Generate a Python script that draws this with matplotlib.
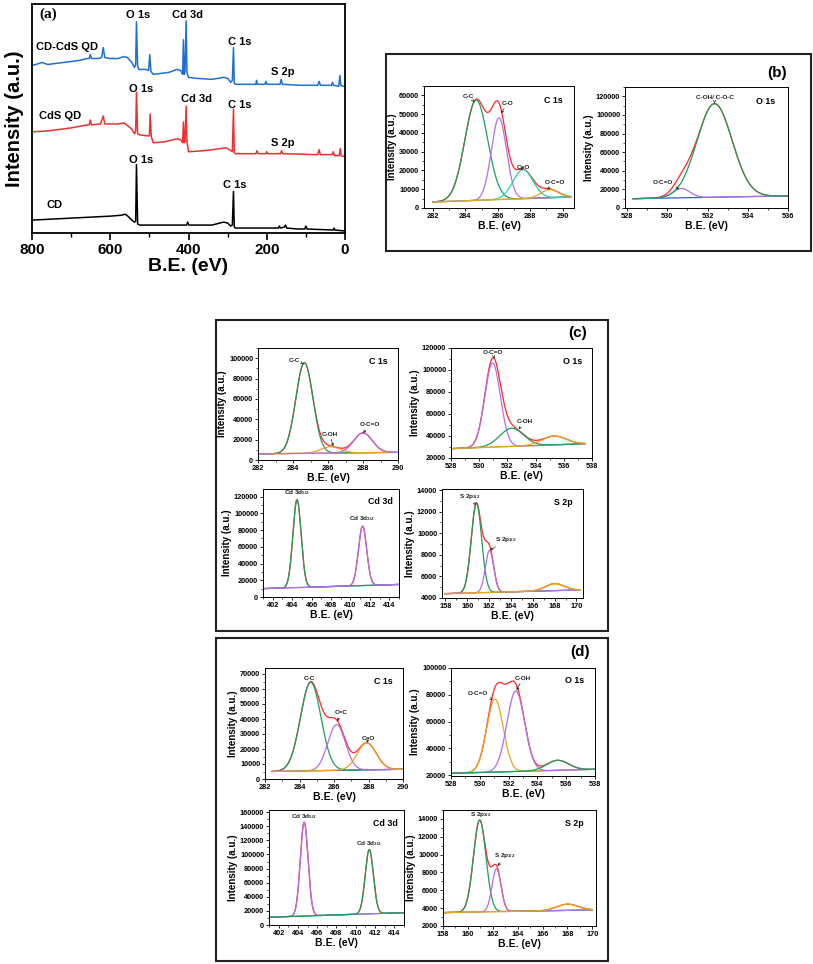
import numpy as np
import matplotlib
matplotlib.use("Agg")
import matplotlib.pyplot as plt
from matplotlib.patches import Rectangle
from matplotlib.ticker import MultipleLocator

plt.rcParams['font.family'] = ['Liberation Sans', 'DejaVu Sans']
plt.rcParams['font.weight'] = 'bold'
plt.rcParams['axes.labelweight'] = 'bold'
plt.rcParams['mathtext.default'] = 'regular'

W, H = 813, 964

# ---------------- (a) survey data (eV, arbitrary intensity) ----------------
cdcds_ev = [800, 790, 775, 760, 720, 680, 660, 654, 651, 648, 630, 622, 618, 614, 600, 580, 565, 556, 545, 538,
            535, 533, 530, 527, 510, 502, 499, 496, 490, 470, 450, 430, 420, 415, 413, 411, 409, 406, 404, 400,
            380, 340, 310, 300, 292, 288, 285, 283, 280, 240, 228, 226, 224, 205, 202, 200, 166, 163, 160, 110,
            70, 66, 63, 35, 32, 29, 16, 13, 11, 5, 0]
cdcds_int = [167, 168, 170, 168, 170, 172, 174, 174, 178, 174, 174, 175, 185, 175, 174, 174, 176, 175, 170, 165,
             168, 211, 166, 163, 163, 162, 178, 161, 158, 159, 160, 163, 162, 158, 193, 158, 160, 212, 160, 155,
             154, 153, 155, 154, 150, 152, 185, 149, 148, 148, 148, 152, 148, 148, 151, 148, 148, 153, 148, 147,
             147, 151, 147, 147, 150, 147, 146, 157, 147, 146, 146]

cds_ev = [800, 760, 700, 660, 654, 651, 648, 625, 618, 614, 580, 565, 555, 545, 538, 535, 533, 530, 525, 505,
          500, 498, 495, 490, 460, 430, 420, 415, 413, 411, 409, 406, 404, 400, 360, 320, 305, 295, 288, 285,
          283, 280, 228, 225, 222, 202, 200, 198, 165, 162, 159, 70, 66, 63, 33, 30, 27, 15, 12, 10, 0]
cds_int = [100, 101, 104, 107, 107, 112, 107, 108, 116, 108, 108, 109, 106, 103, 98, 101, 140, 98, 97, 96,
           96, 118, 95, 89, 90, 93, 92, 89, 110, 89, 90, 126, 90, 80, 81, 83, 84, 82, 80, 123,
           79, 78, 78, 81, 78, 78, 80, 78, 78, 81, 78, 77, 82, 77, 77, 80, 76, 76, 83, 76, 75]

cd_ev = [800, 700, 600, 570, 562, 555, 545, 538, 535, 533, 530, 525, 450, 405, 402, 399, 340, 310, 300, 292,
         288, 285, 283, 280, 200, 170, 168, 165, 155, 152, 149, 120, 103, 100, 97, 30, 28, 26, 0]
cd_int = [11, 13, 15, 16, 17, 15, 11, 9, 10, 67, 7, 6, 6, 6, 9, 6, 6, 9, 8, 5,
          6, 40, 4, 3, 3, 3, 5, 3, 4, 6, 3, 2, 2, 5, 2, 1, 3, 1, 0]

survey_labels = [("O 1s", 530, 218), ("Cd 3d", 402, 218), ("CD-CdS QD", 711, 186), ("C 1s", 269, 191),
                 ("S 2p", 160, 160), ("O 1s", 522, 143), ("Cd 3d", 379, 133), ("C 1s", 269, 127),
                 ("CdS QD", 727, 116), ("S 2p", 160, 89), ("O 1s", 522, 72), ("C 1s", 282, 46), ("CD", 742, 26)]

# ---------------- fitted spectra ----------------
# bg = linear background [start, end]; peaks = fitted components (height above background);
# extra = residual of the measured (red) curve not covered by the drawn components
GREEN = '#1e9e5c'; PURPLE = '#b46ee6'; CYAN = '#22d2b0'; ORANGE = '#e8a424'
RED = '#ff2626'; BLUE = '#2a62c8'

# (b) C 1s
b_c1s_range = [282.0, 290.5]; b_c1s_bg = [3200, 5900]
b_c1s_centers = [284.67, 286.07, 287.55, 289.2]
b_c1s_heights = [53500, 43500, 15500, 4300]
b_c1s_fwhm = [1.65, 1.1, 1.45, 1.3]
b_c1s_extra = [[], [], []]
# (b) O 1s
b_o1s_range = [528.3, 536.0]; b_o1s_bg = [10000, 13000]
b_o1s_centers = [530.7, 532.35]
b_o1s_heights = [10000, 100500]
b_o1s_fwhm = [1.0, 2.05]
b_o1s_extra = [[], [], []]
# (c) C 1s
c_c1s_range = [282.0, 290.0]; c_c1s_bg = [6000, 7500]
c_c1s_centers = [284.65, 286.15, 288.0]
c_c1s_heights = [89000, 6300, 19500]
c_c1s_fwhm = [1.15, 1.3, 1.25]
c_c1s_extra = [[], [], []]
# (c) O 1s
c_o1s_range = [528.0, 537.5]; c_o1s_bg = [28500, 33000]
c_o1s_centers = [530.95, 532.3, 535.3]
c_o1s_heights = [76500, 16500, 8000]
c_o1s_fwhm = [1.3, 2.0, 2.0]
c_o1s_extra = [[], [], []]
# (c) Cd 3d
c_cd3d_range = [401.0, 415.0]; c_cd3d_bg = [10000, 15000]
c_cd3d_centers = [404.5, 411.25]
c_cd3d_heights = [105000, 71000]
c_cd3d_fwhm = [1.0, 1.0]
c_cd3d_extra = [[], [], []]
# (c) S 2p
c_s2p_range = [158.0, 170.3]; c_s2p_bg = [4400, 4750]
c_s2p_centers = [160.85, 162.05, 168.0]
c_s2p_heights = [8300, 3900, 650]
c_s2p_fwhm = [1.12, 0.9, 2.0]
c_s2p_extra = [[161.6], [600], [0.6]]
# (d) C 1s
d_c1s_range = [282.4, 290.0]; d_c1s_bg = [5000, 6500]
d_c1s_centers = [284.65, 286.15, 287.9]
d_c1s_heights = [59000, 30500, 18000]
d_c1s_fwhm = [1.4, 1.2, 1.3]
d_c1s_extra = [[285.6], [2500], [0.8]]
# (d) O 1s
d_o1s_range = [528.0, 538.0]; d_o1s_bg = [21500, 24500]
d_o1s_centers = [531.05, 532.5, 535.4]
d_o1s_heights = [54500, 60000, 7500]
d_o1s_fwhm = [1.35, 1.45, 1.8]
d_o1s_extra = [[531.7], [11000], [1.2]]
# (d) Cd 3d
d_cd3d_range = [401.0, 415.0]; d_cd3d_bg = [11000, 17500]
d_cd3d_centers = [404.65, 411.4]
d_cd3d_heights = [133000, 91000]
d_cd3d_fwhm = [0.95, 1.0]
d_cd3d_extra = [[], [], []]
# (d) S 2p
d_s2p_range = [158.0, 170.0]; d_s2p_bg = [3500, 3800]
d_s2p_centers = [160.95, 162.3, 168.0]
d_s2p_heights = [10300, 4800, 700]
d_s2p_fwhm = [1.18, 0.85, 2.0]
d_s2p_extra = [[161.8], [800], [0.6]]


def px_axes(fig, l, t, r, b):
    return fig.add_axes([l / W, 1 - b / H, (r - l) / W, (b - t) / H])


fig = plt.figure(figsize=(W / 100, H / 100), dpi=100)
fig.patch.set_facecolor('white')

# ---------------- panel (a) ----------------
ax = px_axes(fig, 32, 4, 345, 233)
ax.plot(cd_ev, cd_int, color='black', lw=1.1)
ax.plot(cds_ev, cds_int, color='#f03030', lw=1.1)
ax.plot(cdcds_ev, cdcds_int, color='#1f6fd0', lw=1.1)
ax.set_xlim(800, 0)
ax.set_ylim(-2, 229)
ax.set_yticks([])
ax.xaxis.set_major_locator(MultipleLocator(200))
ax.xaxis.set_minor_locator(MultipleLocator(100))
ax.tick_params(axis='x', which='major', direction='out', length=5, width=1.2, labelsize=11, pad=2)
ax.tick_params(axis='x', which='minor', direction='out', length=3, width=1.0)
for lab in ax.get_xticklabels():
    lab.set_fontweight('bold')
for s in ax.spines.values():
    s.set_linewidth(1.3)
ax.set_xlabel('B.E. (eV)', fontsize=14, fontweight='bold', labelpad=1)
ax.set_ylabel('Intensity (a.u.)', fontsize=14.5, fontweight='bold', labelpad=6)
for txt, xx, yy in survey_labels:
    ax.text(xx, yy, txt, fontsize=8, fontweight='bold', ha='center', va='center')
ax.text(0.025, 0.955, '(a)', transform=ax.transAxes, fontsize=11, fontweight='bold',
        family=['Liberation Serif', 'DejaVu Serif'], ha='left', va='center')


def gauss(x, c, h, fw):
    s = fw / 2.3548
    return h * np.exp(-0.5 * ((x - c) / s) ** 2)


def fit_panel(l, t, r, b, xr, bg, centers, heights, fwhm, extra, colors, bgcolor,
              xlim, ylim, xstep, ystep, title, labels):
    a = px_axes(fig, l, t, r, b)
    x = np.linspace(xr[0], xr[1], 600)
    base = bg[0] + (bg[1] - bg[0]) * (x - xr[0]) / (xr[1] - xr[0])
    env = base.copy()
    a.plot(x, base, color=bgcolor, lw=0.9)
    for c, h, fw, col in zip(centers, heights, fwhm, colors):
        g = gauss(x, c, h, fw)
        env += g
        a.plot(x, base + g, color=col, lw=0.9)
    for c, h, fw in zip(*extra):
        env += gauss(x, c, h, fw)
    a.plot(x, env, color=RED, lw=0.9, zorder=1.5)
    a.set_xlim(*xlim)
    a.set_ylim(*ylim)
    a.xaxis.set_major_locator(MultipleLocator(xstep))
    a.xaxis.set_minor_locator(MultipleLocator(xstep / 2))
    a.yaxis.set_major_locator(MultipleLocator(ystep))
    a.yaxis.set_minor_locator(MultipleLocator(ystep / 2))
    a.tick_params(which='major', direction='out', length=2.5, width=0.6, labelsize=5.3, pad=1)
    a.tick_params(which='minor', direction='out', length=1.5, width=0.5)
    for lab in a.get_xticklabels() + a.get_yticklabels():
        lab.set_fontweight('bold')
    for s in a.spines.values():
        s.set_linewidth(0.7)
    a.set_xlabel('B.E. (eV)', fontsize=7.5, fontweight='bold', labelpad=0.5)
    a.set_ylabel('Intensity (a.u.)', fontsize=7, fontweight='bold', labelpad=1.5)
    a.text(0.86, 0.88, title, transform=a.transAxes, fontsize=6.4, fontweight='bold',
           ha='center', va='center')
    for txt, tx, ty, px_, py_ in labels:
        if px_ is None:
            a.text(tx, ty, txt, fontsize=4.6, fontweight='bold', ha='center', va='bottom', color='#222222')
        else:
            a.annotate(txt, xy=(px_, py_), xytext=(tx, ty), fontsize=4.6, fontweight='bold',
                       ha='center', va='bottom', color='#222222',
                       arrowprops=dict(arrowstyle='->', lw=0.5, color='#222222',
                                       shrinkA=0, shrinkB=0, mutation_scale=4))
    return a


# ---------------- panel (b) ----------------
fit_panel(424, 86, 574, 208, b_c1s_range, b_c1s_bg, b_c1s_centers, b_c1s_heights, b_c1s_fwhm, b_c1s_extra,
          [GREEN, PURPLE, CYAN, ORANGE], ORANGE, (281.45, 290.7), (0, 65000), 2, 10000, 'C 1s',
          [('C-C', 284.2, 58300, 284.55, 56500), ('C-O', 286.6, 54500, 286.2, 50500),
           ('C=O', 287.55, 20500, 287.45, 20000), ('O-C=O', 289.5, 12500, 289.05, 9800)])
fit_panel(625, 87, 788, 208, b_o1s_range, b_o1s_bg, b_o1s_centers, b_o1s_heights, b_o1s_fwhm, b_o1s_extra,
          [PURPLE, GREEN], BLUE, (527.9, 536.0), (0, 130000), 2, 20000, 'O 1s',
          [('O-C=O', 529.8, 25000, 530.6, 20500), ('C-OH/ C-O-C', 532.35, 116000, 532.35, 112500)])

# ---------------- panel (c) ----------------
fit_panel(258, 348, 398, 460, c_c1s_range, c_c1s_bg, c_c1s_centers, c_c1s_heights, c_c1s_fwhm, c_c1s_extra,
          [GREEN, ORANGE, PURPLE], ORANGE, (282, 290), (0, 110000), 2, 20000, 'C 1s',
          [('C-C', 284.1, 95500, 284.6, 94500), ('C-OH', 286.1, 23000, 286.3, 13500),
           ('O-C=O', 288.4, 32000, 288.0, 26500)])
fit_panel(451, 348, 592, 458, c_o1s_range, c_o1s_bg, c_o1s_centers, c_o1s_heights, c_o1s_fwhm, c_o1s_extra,
          [PURPLE, GREEN, ORANGE], ORANGE, (528, 538), (20000, 120000), 2, 20000, 'O 1s',
          [('O-C=O', 531.0, 114000, 531.05, 110500), ('C-OH', 533.2, 50500, 532.8, 46000)])
fit_panel(263, 489, 399, 597, c_cd3d_range, c_cd3d_bg, c_cd3d_centers, c_cd3d_heights, c_cd3d_fwhm,
          c_cd3d_extra, [GREEN, PURPLE], PURPLE, (401, 415), (0, 129000), 2, 20000, 'Cd 3d',
          [('Cd 3d$_{5/2}$', 404.5, 119000, None, None), ('Cd 3d$_{3/2}$', 411.2, 88000, None, None)])
fit_panel(442, 489, 583, 598, c_s2p_range, c_s2p_bg, c_s2p_centers, c_s2p_heights, c_s2p_fwhm, c_s2p_extra,
          [GREEN, PURPLE, ORANGE], ORANGE, (157.7, 170.6), (4000, 14100), 2, 2000, 'S 2p',
          [('S 2p$_{3/2}$', 160.2, 13000, 160.8, 12600), ('S 2p$_{1/2}$', 163.5, 9000, 162.1, 8400)])

# ---------------- panel (d) ----------------
fit_panel(265, 668, 403, 779, d_c1s_range, d_c1s_bg, d_c1s_centers, d_c1s_heights, d_c1s_fwhm, d_c1s_extra,
          [GREEN, PURPLE, ORANGE], BLUE, (282, 290), (0, 74000), 2, 10000, 'C 1s',
          [('C-C', 284.6, 65500, None, None), ('C=C', 286.4, 42500, 286.2, 38500),
           ('C=O', 288.0, 25500, 287.9, 24200)])
fit_panel(451, 668, 595, 776, d_o1s_range, d_o1s_bg, d_o1s_centers, d_o1s_heights, d_o1s_fwhm, d_o1s_extra,
          [ORANGE, PURPLE, GREEN], GREEN, (528, 538), (19500, 100000), 2, 20000, 'O 1s',
          [('O-C=O', 529.9, 79000, 530.9, 76500), ('C-OH', 533.0, 90500, 532.55, 83500)])
fit_panel(269, 810, 404, 925, d_cd3d_range, d_cd3d_bg, d_cd3d_centers, d_cd3d_heights, d_cd3d_fwhm,
          d_cd3d_extra, [PURPLE, GREEN], GREEN, (401, 415), (0, 163000), 2, 20000, 'Cd 3d',
          [('Cd 3d$_{5/2}$', 404.6, 147500, None, None), ('Cd 3d$_{3/2}$', 411.4, 109500, None, None)])
fit_panel(443, 810, 596, 926, d_s2p_range, d_s2p_bg, d_s2p_centers, d_s2p_heights, d_s2p_fwhm, d_s2p_extra,
          [GREEN, PURPLE, ORANGE], ORANGE, (158, 170.3), (2000, 15000), 2, 2000, 'S 2p',
          [('S 2p$_{3/2}$', 161.0, 14000, None, None), ('S 2p$_{1/2}$', 163.0, 9400, 162.4, 8700)])

# ---------------- frames and panel letters ----------------
for (l, t, r, b) in [(386, 54, 811, 251), (216, 320, 608, 631), (216, 638, 608, 961)]:
    fig.add_artist(Rectangle((l / W, 1 - b / H), (r - l) / W, (b - t) / H, transform=fig.transFigure,
                             fill=False, lw=1.5, edgecolor='#222222'))
for txt, x, y in [('(b)', 777, 73), ('(c)', 578, 333), ('(d)', 580, 652)]:
    fig.text(x / W, 1 - y / H, txt, fontsize=11, fontweight='bold', ha='center', va='center')

fig.savefig('out.png', dpi=100, facecolor='white')
